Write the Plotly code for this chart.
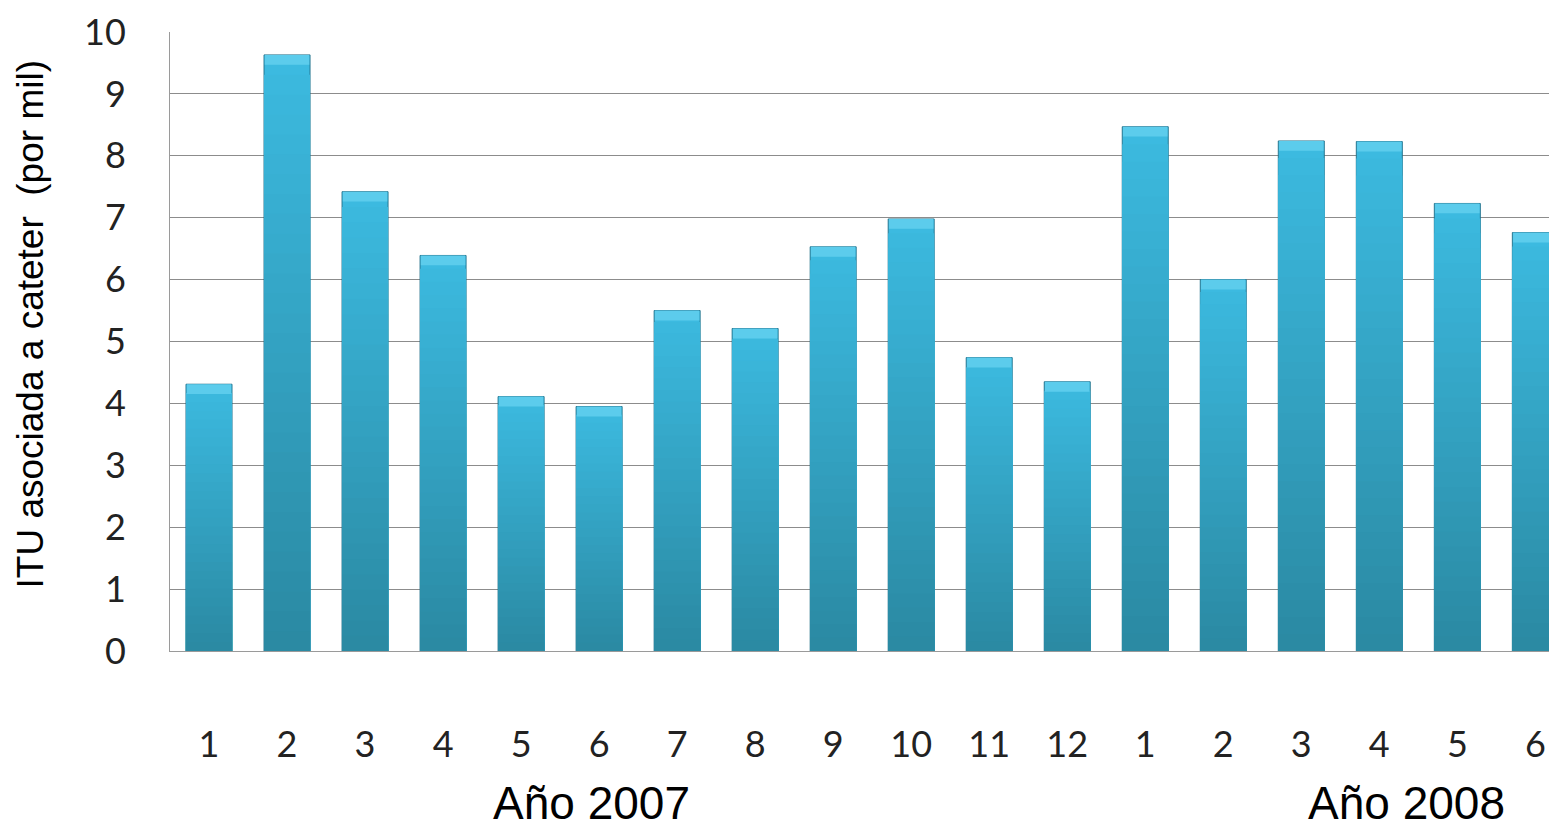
import plotly.graph_objects as go

months = ["1","2","3","4","5","6","7","8","9","10","11","12","1","2","3","4","5","6"]
values = [4.31, 9.63, 7.42, 6.39, 4.11, 3.95, 5.50, 5.21, 6.53, 6.98, 4.74, 4.35,
          8.47, 6.00, 8.24, 8.23, 7.23, 6.76]
year_labels = ["Año 2007", "Año 2008"]
y_title = "ITU asociada a cateter  (por mil)"

x_idx = list(range(len(values)))

fig = go.Figure()
# vertical gradient: layered bars, light on top, darker toward the bottom
steps = 30
top = (60, 186, 224)
bot = (43, 138, 163)
for i in range(steps):
    f = 1 - i / steps
    t = i / (steps - 1)
    c = tuple(int(top[k] + (bot[k] - top[k]) * t) for k in range(3))
    fig.add_trace(go.Bar(
        x=x_idx, y=[v * f for v in values],
        marker=dict(color="rgb(%d,%d,%d)" % c,
                    line=dict(color="rgba(30,110,135,0.9)" if i == 0 else "rgba(0,0,0,0)", width=1)),
        width=0.59, showlegend=False, hoverinfo="skip",
    ))
# lighter bevel cap on top of each bar
cap = 0.16
fig.add_trace(go.Bar(
    x=x_idx, y=[cap] * len(values), base=[v - cap for v in values],
    marker=dict(color="rgb(92,204,236)", line=dict(width=0)),
    width=0.57, showlegend=False, hoverinfo="skip",
))

fig.update_layout(
    barmode="overlay",
    width=1557, height=821,
    margin=dict(l=162, r=0, t=24, b=178, autoexpand=False),
    paper_bgcolor="white", plot_bgcolor="white",
    font=dict(family="Lato", color="#222"),
    xaxis=dict(
        tickmode="array", tickvals=x_idx, ticktext=months,
        range=[-0.5, 17.38], showgrid=False,
        showline=True, linecolor="#9a9a9a", linewidth=1,
        ticks="", tickfont=dict(size=36, family="Lato", color="#222"),
        ticklabelstandoff=62, automargin=False,
    ),
    yaxis=dict(
        range=[0, 10], dtick=1, showgrid=True, gridcolor="#8c8c8c", gridwidth=1,
        showline=True, linecolor="#9a9a9a", linewidth=1, zeroline=False,
        ticks="", tickfont=dict(size=36, family="Lato", color="#222"),
        ticklabelstandoff=36, automargin=False,
    ),
    annotations=[
        dict(text=y_title, x=0, y=0.5, xref="paper", yref="paper", textangle=-90,
             xanchor="center", yanchor="middle", xshift=-140, yshift=17,
             showarrow=False, font=dict(size=37, family="Liberation Sans", color="#000")),
        dict(text=year_labels[0], x=4.9, y=0, xref="x", yref="paper",
             yanchor="middle", yshift=-152,
             showarrow=False, font=dict(size=46, family="Liberation Sans", color="#000")),
        dict(text=year_labels[1], x=15.35, y=0, xref="x", yref="paper",
             yanchor="middle", yshift=-152,
             showarrow=False, font=dict(size=46, family="Liberation Sans", color="#000")),
    ],
)

fig.write_html("out.html")
